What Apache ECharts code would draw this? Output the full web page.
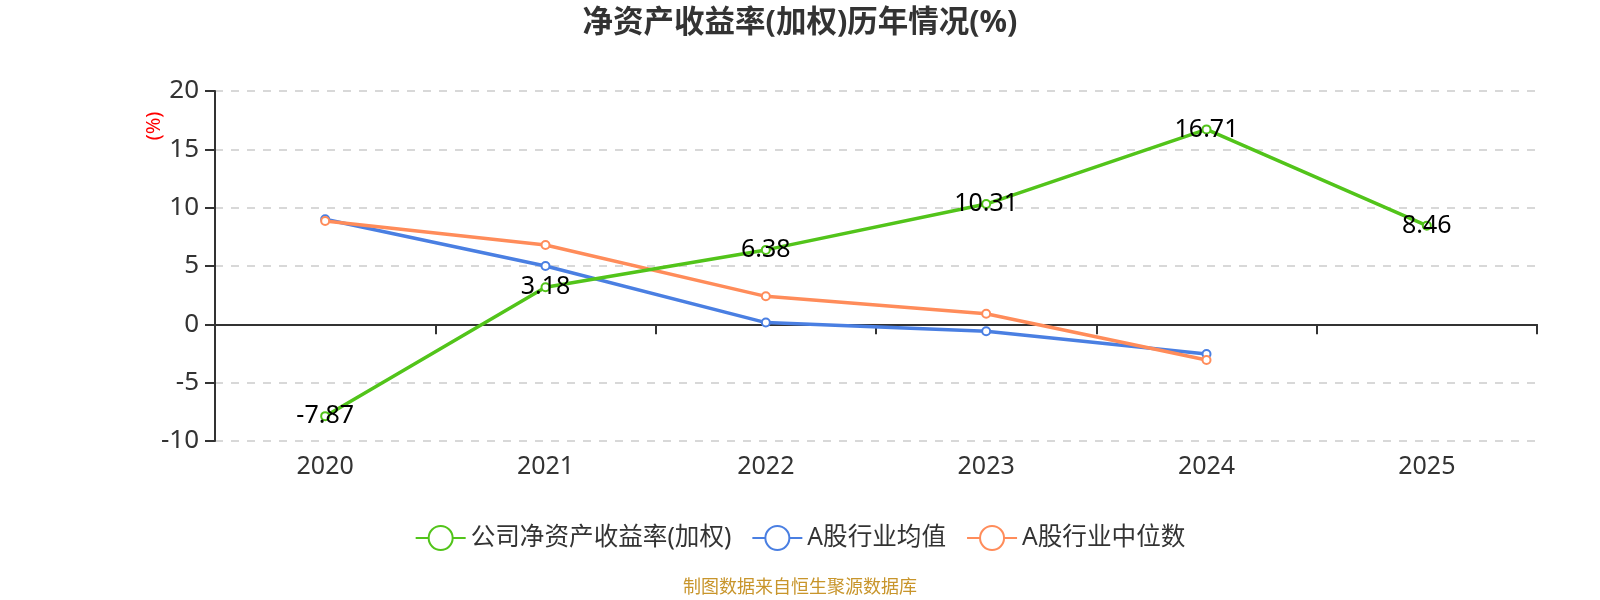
<!DOCTYPE html>
<html>
<head>
<meta charset="utf-8">
<script src="https://cdn.jsdelivr.net/npm/echarts@6/dist/echarts.min.js"></script>
<style>
html,body{margin:0;padding:0;background:#fff;}
#chart{width:1600px;height:600px;}
</style>
</head>
<body>
<div id="chart"></div>
<script>
var categories = ['2020', '2021', '2022', '2023', '2024', '2025'];
var companyROE = [-7.87, 3.18, 6.38, 10.31, 16.71, 8.46];
var industryMean = [9.0, 5.0, 0.15, -0.6, -2.55];
var industryMedian = [8.85, 6.8, 2.4, 0.9, -3.05];
var yTicks = { min: -10, max: 20, interval: 5 };

var FONT = '"Noto Sans", "Noto Sans CJK SC", sans-serif';
var chart = echarts.init(document.getElementById('chart'));
chart.setOption({
  animation: false,
  backgroundColor: '#fff',
  textStyle: { fontFamily: FONT },
  title: [{
    text: '净资产收益率(加权)历年情况(%)',
    left: 'center',
    top: 3,
    textStyle: { fontSize: 30.5, fontWeight: 'bold', color: '#333', fontFamily: FONT }
  }, {
    text: '制图数据来自恒生聚源数据库',
    left: 'center',
    top: 574,
    textStyle: { fontSize: 18, fontWeight: 'normal', color: '#c8952b', fontFamily: FONT }
  }],
  graphic: [{
    type: 'text',
    x: 154,
    y: 126,
    rotation: Math.PI / 2,
    style: {
      text: '(%)',
      fill: '#ff0000',
      font: '20px ' + FONT,
      align: 'center',
      verticalAlign: 'middle'
    }
  }],
  legend: {
    top: 520,
    left: 'center',
    itemWidth: 50,
    itemHeight: 30,
    itemGap: 20,
    textStyle: { fontSize: 24.6, color: '#333', fontFamily: FONT },
    data: ['公司净资产收益率(加权)', 'A股行业均值', 'A股行业中位数']
  },
  grid: { left: 215, right: 63, top: 91, bottom: 159, containLabel: false },
  xAxis: [{
    type: 'category',
    data: categories,
    position: 'bottom',
    axisLine: { onZero: true, lineStyle: { color: '#333', width: 2 } },
    axisTick: { show: true, length: 10, lineStyle: { color: '#333', width: 2 } },
    axisLabel: { show: false },
    splitLine: { show: false }
  }, {
    type: 'category',
    data: categories,
    position: 'bottom',
    axisLine: { show: false, onZero: false },
    axisTick: { show: false },
    axisLabel: { show: true, fontSize: 25, color: '#333', margin: 13, fontFamily: FONT },
    splitLine: { show: false }
  }],
  yAxis: {
    type: 'value',
    min: yTicks.min,
    max: yTicks.max,
    interval: yTicks.interval,
    axisLine: { show: true, lineStyle: { color: '#333', width: 2 } },
    axisTick: { show: true, length: 10, lineStyle: { color: '#333', width: 2 } },
    axisLabel: { fontSize: 26, color: '#333', margin: 16, fontFamily: FONT },
    splitLine: { show: true, lineStyle: { type: [8, 8], color: '#ccc', width: 1.5 } }
  },
  series: [{
    name: '公司净资产收益率(加权)',
    type: 'line',
    data: companyROE,
    symbol: 'emptyCircle',
    symbolSize: 8,
    lineStyle: { width: 3.5, color: '#52c41a' },
    itemStyle: { color: '#52c41a' },
    label: { show: true, position: 'inside', fontSize: 25, color: '#000', fontFamily: FONT },
    z: 3
  }, {
    name: 'A股行业均值',
    type: 'line',
    data: industryMean,
    symbol: 'emptyCircle',
    symbolSize: 8,
    lineStyle: { width: 3.5, color: '#4a7fe2' },
    itemStyle: { color: '#4a7fe2' },
    z: 2
  }, {
    name: 'A股行业中位数',
    type: 'line',
    data: industryMedian,
    symbol: 'emptyCircle',
    symbolSize: 8,
    lineStyle: { width: 3.5, color: '#ff8c5a' },
    itemStyle: { color: '#ff8c5a' },
    z: 2
  }]
});
</script>
</body>
</html>
